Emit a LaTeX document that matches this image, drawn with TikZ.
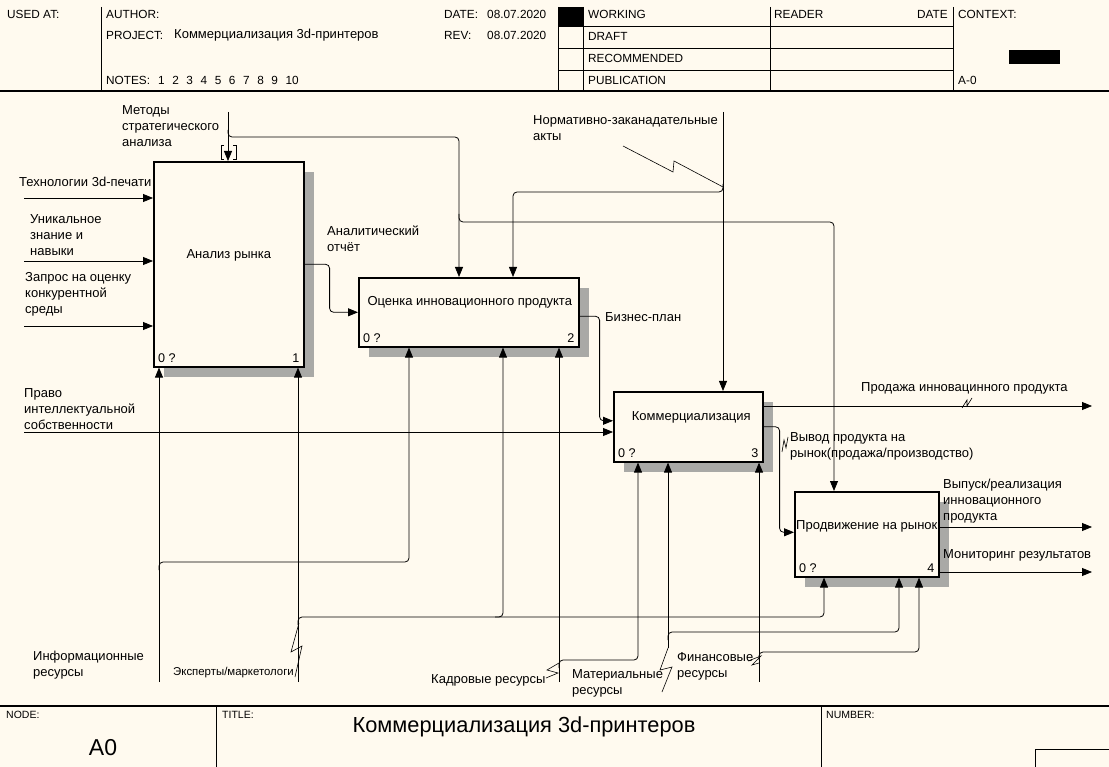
\documentclass[tikz,border=0pt]{standalone}
\usepackage{fontspec}
\setmainfont{Liberation Sans}
\usepackage{tikz}
\usetikzlibrary{arrows.meta,calc,positioning,shadows}
\usepackage{xcolor}

\definecolor{paper}{HTML}{FFFAEF}
\definecolor{shadowgray}{HTML}{A9A9A6}

\begin{document}
\begin{tikzpicture}[
  x=1pt, y=-1pt,
  every node/.style={inner sep=0pt},
  activity/.style={
    draw=black,
    line width=1.6pt,
    fill=paper,
    anchor=north west,
    drop shadow={shadow xshift=10pt,shadow yshift=-10pt,fill=shadowgray,opacity=1}
  },
  actname/.style={font=\fontsize{13}{15}\selectfont},
  cornertag/.style={font=\fontsize{12.6}{15}\selectfont},
  arrowlabel/.style={anchor=west,align=left,font=\fontsize{13}{16}\selectfont},
  smalllabel/.style={anchor=west,font=\fontsize{11.4}{13}\selectfont},
  headtext/.style={anchor=west,font=\fontsize{11.8}{14}\selectfont},
  foottext/.style={anchor=west,font=\fontsize{10.5}{12}\selectfont},
  frameline/.style={line width=0.8pt},
  flow/.style={
    -{Triangle[length=10pt,width=8pt]},
    line width=0.8pt,
    rounded corners=4pt
  },
  squiggle/.style={line width=0.6pt}
]
\fill[paper] (0,0) rectangle (1109,767);
\useasboundingbox (0,0) rectangle (1109,767);

% Header frame
\draw[frameline] (101,7) -- (101,91);
\draw[frameline] (558,7) -- (558,91);
\draw[frameline] (583,7) -- (583,91);
\draw[frameline] (770,7) -- (770,91);
\draw[frameline] (953,7) -- (953,91);
\foreach \y in {26,48,70}
  \draw[frameline] (558,\y) -- (953,\y);
\draw[line width=1.4pt] (0,91) -- (1109,91);
\fill (558,7) rectangle (583,26);
\fill (1009,50) rectangle (1060,64);

\node[headtext] at (7,14) {USED AT:};
\node[headtext] at (106,14) {AUTHOR:};
\node[headtext] at (106,35) {PROJECT:};
\node[headtext,font=\fontsize{13}{14}\selectfont] at (174,35) {Коммерциализация 3d-принтеров};
\node[headtext] at (106,80) {NOTES:\hspace{8pt}1\hspace{7.6pt}2\hspace{7.6pt}3\hspace{7.6pt}4\hspace{7.6pt}5\hspace{7.6pt}6\hspace{7.6pt}7\hspace{7.6pt}8\hspace{7.6pt}9\hspace{7.6pt}10};
\node[headtext] at (444,14) {DATE:};
\node[headtext] at (487,14) {08.07.2020};
\node[headtext] at (444,35) {REV:};
\node[headtext] at (487,35) {08.07.2020};
\node[headtext] at (588,14) {WORKING};
\node[headtext] at (588,36) {DRAFT};
\node[headtext] at (588,58) {RECOMMENDED};
\node[headtext] at (588,80) {PUBLICATION};
\node[headtext] at (774,14) {READER};
\node[headtext,anchor=east] at (948,14) {DATE};
\node[headtext] at (958,14) {CONTEXT:};
\node[headtext] at (958,80) {A-0};

% Footer frame
\draw[line width=1.4pt] (0,706) -- (1109,706);
\draw[frameline] (216,706) -- (216,767);
\draw[frameline] (821,706) -- (821,767);
\draw[frameline] (1035,767) -- (1035,749) -- (1109,749);
\node[foottext] at (6,715) {NODE:};
\node[foottext] at (222,715) {TITLE:};
\node[foottext] at (826,715) {NUMBER:};
\node[font=\fontsize{23}{26}\selectfont] at (103,748) {A0};
\node[font=\fontsize{21.8}{24}\selectfont] at (524,727) {Коммерциализация 3d-принтеров};

% Activities
\node[activity,minimum width=150pt,minimum height=205pt] (analysis) at (153,161) {};
\node[actname] at ([yshift=9pt]analysis.center) {Анализ рынка};
\node[activity,minimum width=220pt,minimum height=69pt] (evaluation) at (358,277) {};
\node[actname] at ([xshift=1pt,yshift=10pt]evaluation.center) {Оценка инновационного продукта};
\node[activity,minimum width=149pt,minimum height=70pt] (commercial) at (613,391) {};
\node[actname] at ([xshift=3pt,yshift=9pt]commercial.center) {Коммерциализация};
\node[activity,minimum width=144pt,minimum height=85pt] (promotion) at (794,491) {};
\node[actname] at ([yshift=8pt]promotion.center) {Продвижение на рынок};

% Corner tags
\foreach \act/\num in {analysis/1,evaluation/2,commercial/3,promotion/4}{
  \node[cornertag,anchor=south west] at ([xshift=5pt,yshift=5pt]\act.south west) {0 ?};
  \node[cornertag,anchor=south east] at ([xshift=-5pt,yshift=5pt]\act.south east) {\num};
}

% Boundary ends and forks
\coordinate (techIn) at (24,198);
\coordinate (skillsIn) at (24,261);
\coordinate (requestIn) at (24,326);
\coordinate (rightsIn) at (24,432);
\coordinate (methodsTop) at (228,112);
\coordinate (methodsFork) at (228,130);
\coordinate (methodsSplit) at (459,214);
\coordinate (lawTop) at (723,112);
\coordinate (lawFork) at (723,184);
\coordinate (infoBot) at (159,682);
\coordinate (infoFork) at (159,570);
\coordinate (expertsBot) at (298,682);
\coordinate (expertsFork) at (298,625);
\coordinate (expertsSplit) at (495,617);
\coordinate (staffBot) at (559,682);
\coordinate (staffFork) at (559,668);
\coordinate (materialBot) at (668,648);
\coordinate (materialFork) at (668,640);
\coordinate (financeBot) at (759,682);
\coordinate (financeFork) at (759,660);
\coordinate (salesOut) at (1092,406);
\coordinate (releaseOut) at (1092,527);
\coordinate (monitorOut) at (1092,572);

% Inputs and controls
\draw[flow] (techIn) -- (techIn -| analysis.west);
\draw[flow] (skillsIn) -- (skillsIn -| analysis.west);
\draw[flow] (requestIn) -- (requestIn -| analysis.west);
\draw[flow] (methodsTop) -- (methodsTop |- analysis.north);
\draw[flow] (methodsFork) |- (459,137) -- (459,0 |- evaluation.north);
\draw[flow] (methodsSplit) |- (834,222) -- (834,0 |- promotion.north);
\draw[flow] (lawTop) -- (lawTop |- commercial.north);
\draw[flow] (lawFork) |- (513,192) -- (513,0 |- evaluation.north);
\draw[flow] (rightsIn) -- (rightsIn -| commercial.west);

% Outputs
\draw[flow] (analysis.east) -- ++(25,0) |- (evaluation.west);
\draw[flow] ([yshift=-4pt]evaluation.east) -- ++(20,0) |- ([yshift=6pt]commercial.west);
\draw[flow] (commercial.east |- salesOut) -- (salesOut);
\draw[flow] (commercial.east) -- ++(16,0) |- ([yshift=2pt]promotion.west);
\draw[flow] (promotion.east |- releaseOut) -- (releaseOut);
\draw[flow] (promotion.east |- monitorOut) -- (monitorOut);

% Mechanisms
\draw[flow] (infoBot) -- (infoBot |- analysis.south);
\draw[flow] (infoFork) |- (409,562) -- (409,0 |- evaluation.south);
\draw[flow] (expertsBot) -- (expertsBot |- analysis.south);
\draw[flow] (expertsFork) |- (824,617) -- (824,0 |- promotion.south);
\draw[flow] (expertsSplit) -| (503,0 |- evaluation.south);
\draw[flow] (staffBot) -- (staffBot |- evaluation.south);
\draw[flow] (staffFork) |- (638,660) -- (638,0 |- commercial.south);
\draw[flow] (materialBot) -- (materialBot |- commercial.south);
\draw[flow] (materialFork) |- (899,632) -- (899,0 |- promotion.south);
\draw[flow] (financeBot) -- (financeBot |- commercial.south);
\draw[flow] (financeFork) |- (919,652) -- (919,0 |- promotion.south);

% Tunnel brackets and label ties
\draw[squiggle] (224,145) -- (221,145) -- (221,159) -- (224,159);
\draw[squiggle] (233,145) -- (236,145) -- (236,159) -- (233,159);
\draw[squiggle] (623,146) -- (673,172) -- (674,161) -- (723,187);
\draw[squiggle] (299,623) -- (291,652) -- (302,646) -- (295,677);
\draw[squiggle] (546,678) -- (558,673) -- (547,670) -- (559,663);
\draw[squiggle] (668,648) -- (660,670) -- (672,667) -- (662,692);
\draw[squiggle] (748,661) -- (761,656) -- (752,665) -- (759,663);
\draw[squiggle] (782,452) -- (784,440) -- (786,448) -- (788,437);
\draw[squiggle] (962,408) -- (967,400) -- (967,406) -- (972,398);

% Arrow labels
\node[arrowlabel] at (19,182) {Технологии 3d-печати};
\node[arrowlabel] at (30,235) {Уникальное\\знание и\\навыки};
\node[arrowlabel] at (25,294) {Запрос на оценку\\конкурентной\\среды};
\node[arrowlabel] at (122,126) {Методы\\стратегического\\анализа};
\node[arrowlabel] at (327,239) {Аналитический\\отчёт};
\node[arrowlabel] at (533,128) {Нормативно-заканадательные\\акты};
\node[arrowlabel] at (605,317) {Бизнес-план};
\node[arrowlabel] at (24,409) {Право\\интеллектуальной\\собственности};
\node[arrowlabel] at (861,388) {Продажа инновацинного продукта};
\node[arrowlabel] at (790,446) {Вывод продукта на\\рынок(продажа/производство)};
\node[arrowlabel] at (943,501) {Выпуск/реализация\\инновационного\\продукта};
\node[arrowlabel] at (943,555) {Мониторинг результатов};
\node[arrowlabel] at (33,665) {Информационные\\ресурсы};
\node[smalllabel] at (173,673) {Эксперты/маркетологи};
\node[arrowlabel] at (431,680) {Кадровые ресурсы};
\node[arrowlabel] at (572,683) {Материальные\\ресурсы};
\node[arrowlabel] at (677,666) {Финансовые\\ресурсы};
\end{tikzpicture}
\end{document}
